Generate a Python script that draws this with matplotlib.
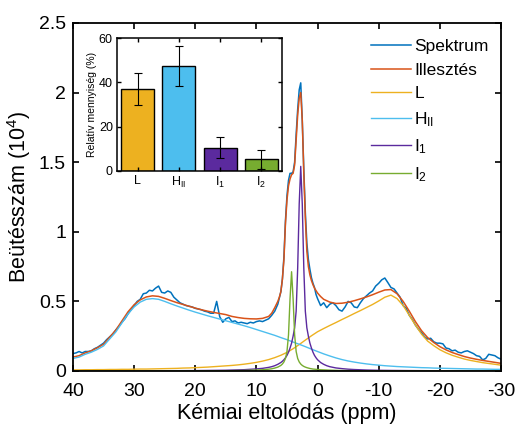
import numpy as np
import matplotlib
matplotlib.use("Agg")
import matplotlib.pyplot as plt
from matplotlib.ticker import FormatStrFormatter

plt.rcParams['font.family'] = ['Liberation Sans', 'DejaVu Sans']
plt.rcParams['mathtext.fontset'] = 'custom'
plt.rcParams['mathtext.rm'] = 'Liberation Sans'
plt.rcParams['mathtext.it'] = 'Liberation Sans'
plt.rcParams['axes.unicode_minus'] = False

# ---- data (y in units of 10^4 counts) ----
# broad components, 1 ppm steps from 40 to -30
broad_ppm = np.arange(40, -31, -1)
h2_vals = [0.09, 0.10, 0.12, 0.135, 0.155, 0.18, 0.23, 0.28, 0.345, 0.41,
           0.46, 0.495, 0.515, 0.52, 0.515, 0.50, 0.483, 0.467, 0.452, 0.437,
           0.423, 0.41, 0.397, 0.385, 0.373, 0.361, 0.349, 0.337, 0.325, 0.312,
           0.298, 0.284, 0.27, 0.256, 0.24, 0.225, 0.208, 0.192, 0.175, 0.157,
           0.14, 0.123, 0.108, 0.094, 0.082, 0.072, 0.064, 0.057, 0.051, 0.046,
           0.042, 0.038, 0.035, 0.032, 0.03, 0.028, 0.026, 0.024, 0.023, 0.021,
           0.02, 0.019, 0.018, 0.017, 0.016, 0.015, 0.014, 0.014, 0.013, 0.012,
           0.012]
l_vals = [0.008, 0.008, 0.009, 0.009, 0.01, 0.01, 0.011, 0.011, 0.012, 0.012,
          0.013, 0.014, 0.014, 0.015, 0.016, 0.017, 0.018, 0.019, 0.021, 0.022,
          0.024, 0.026, 0.028, 0.031, 0.034, 0.037, 0.04, 0.044, 0.049, 0.055,
          0.062, 0.071, 0.082, 0.096, 0.113, 0.134, 0.16, 0.19, 0.222, 0.253,
          0.282, 0.305, 0.327, 0.348, 0.37, 0.391, 0.413, 0.434, 0.456, 0.478,
          0.503, 0.53, 0.545, 0.52, 0.47, 0.40, 0.33, 0.265, 0.215, 0.182,
          0.153, 0.131, 0.113, 0.099, 0.086, 0.076, 0.068, 0.06, 0.054, 0.048,
          0.042]

# narrow components
peak_ppm = [40, 30, 20, 15, 12, 10, 9, 8, 7.5, 7, 6.5, 6,
            5.75, 5.5, 5.25, 5, 4.75, 4.5, 4.25, 4, 3.75, 3.5, 3.25, 3,
            2.75, 2.5, 2.25, 2, 1.75, 1.5, 1.25, 1, 0.75, 0.5, 0.25, 0,
            -0.5, -1, -1.5, -2, -3, -4, -5, -6, -8, -10, -12, -15, -20, -30]
i1_vals = [0.0008, 0.0013, 0.003, 0.0055, 0.0095, 0.015, 0.019, 0.026, 0.031, 0.038, 0.048, 0.061,
           0.07, 0.081, 0.095, 0.112, 0.135, 0.165, 0.2, 0.25, 0.31, 0.43, 0.74, 1.2,
           1.47, 1.2, 0.74, 0.43, 0.31, 0.25, 0.2, 0.165, 0.135, 0.112, 0.095, 0.081,
           0.061, 0.048, 0.038, 0.031, 0.022, 0.017, 0.013, 0.0105, 0.007, 0.005, 0.004, 0.003, 0.0018, 0.001]
i2_vals = [0.0003, 0.0005, 0.0012, 0.0023, 0.004, 0.007, 0.009, 0.013, 0.016, 0.021, 0.028, 0.04,
           0.05, 0.065, 0.09, 0.14, 0.26, 0.52, 0.713, 0.52, 0.26, 0.14, 0.09, 0.065,
           0.05, 0.04, 0.033, 0.028, 0.024, 0.021, 0.018, 0.016, 0.014, 0.013, 0.012, 0.011,
           0.009, 0.008, 0.007, 0.006, 0.0045, 0.0035, 0.003, 0.0025, 0.0018, 0.0014, 0.0011, 0.0008, 0.0005, 0.0003]

# fitted curve
fit_ppm = [40, 39, 38, 37, 36, 35, 34, 33, 32, 31, 30, 29, 28, 27, 26, 25, 24, 23, 22, 21,
           20, 19, 18, 17, 16, 15, 14, 13, 12, 11, 10, 9, 8, 7.5, 7, 6.5, 6.25, 6,
           5.75, 5.5, 5.25, 5, 4.75, 4.5, 4.25, 4, 3.75, 3.5, 3.25, 3, 2.75, 2.5, 2.25, 2,
           1.75, 1.5, 1.25, 1, 0.75, 0.5, 0, -0.5, -1, -2, -3, -4, -5, -6, -7, -8,
           -9, -10, -11, -12, -13, -14, -15, -16, -17, -18, -19, -20, -21, -22, -23, -24,
           -25, -26, -27, -28, -29, -30]
fit_vals = [0.10, 0.11, 0.13, 0.145, 0.167, 0.192, 0.243, 0.293, 0.359, 0.425, 0.476, 0.511, 0.532, 0.54,
            0.536, 0.522, 0.506, 0.491, 0.478, 0.465, 0.452, 0.44, 0.43, 0.421, 0.413, 0.405, 0.392,
            0.384, 0.378, 0.375, 0.374, 0.378, 0.392, 0.415, 0.455, 0.5, 0.53, 0.57,
            0.66, 0.80, 1.06, 1.23, 1.33, 1.38, 1.41, 1.42, 1.48, 1.66, 1.84, 1.96, 2.0, 1.8, 1.42, 1.1,
            0.86, 0.75, 0.69, 0.65, 0.62, 0.595, 0.56, 0.535, 0.515, 0.495, 0.485, 0.487, 0.494, 0.505,
            0.518, 0.532, 0.548, 0.566, 0.582, 0.585, 0.555, 0.50, 0.43, 0.355, 0.29, 0.24, 0.205, 0.175,
            0.152, 0.133, 0.118, 0.104, 0.093, 0.084, 0.076, 0.069, 0.062, 0.055]

# measured spectrum
spec_ppm = [40, 39.5, 39, 38.5, 38, 37.5, 37, 36.5, 36, 35.5, 35, 34.5, 34, 33.5, 33, 32.5, 32,
            31.5, 31, 30.5, 30, 29.5, 29, 28.5, 28, 27.5, 27, 26.5, 26, 25.5, 25, 24.5, 24,
            23.5, 23, 22.5, 22, 21.5, 21, 20.5, 20, 19.5, 19, 18.5, 18, 17.5, 17, 16.5, 16,
            15.5, 15, 14.5, 14, 13.5, 13, 12.5, 12, 11.5, 11, 10.5, 10, 9.5, 9, 8.5, 8, 7.5,
            7, 6.5, 6, 5.75, 5.5, 5.25, 5, 4.75, 4.5, 4.25, 4, 3.75, 3.5, 3.25, 3, 2.75, 2.5,
            2.25, 2, 1.75, 1.5, 1.25, 1, 0.75, 0.5, 0.25, 0, -0.5, -1, -1.5, -2, -2.5, -3,
            -3.5, -4, -4.5, -5, -5.5, -6, -6.5, -7, -7.5, -8, -8.5, -9, -9.5, -10, -10.5,
            -11, -11.5, -12, -12.5, -13, -13.5, -14, -14.5, -15, -15.5, -16, -16.5, -17,
            -17.5, -18, -18.5, -19, -19.5, -20, -20.5, -21, -21.5, -22, -22.5, -23, -23.5,
            -24, -24.5, -25, -25.5, -26, -26.5, -27, -27.5, -28, -28.5, -29, -29.5, -30]
spec_vals = [0.125, 0.13, 0.14, 0.13, 0.14, 0.14, 0.145, 0.16, 0.17, 0.185, 0.2, 0.225, 0.245,
             0.265, 0.295, 0.32, 0.35, 0.375, 0.41, 0.44, 0.47, 0.5, 0.515, 0.555, 0.56, 0.58,
             0.575, 0.595, 0.61, 0.565, 0.56, 0.575, 0.565, 0.53, 0.51, 0.49, 0.48, 0.47, 0.465,
             0.46, 0.45, 0.445, 0.44, 0.43, 0.425, 0.415, 0.415, 0.5, 0.39, 0.35, 0.375, 0.385,
             0.355, 0.36, 0.345, 0.35, 0.345, 0.34, 0.35, 0.345, 0.355, 0.36, 0.355, 0.365,
             0.375, 0.4, 0.43, 0.48, 0.57, 0.66, 0.82, 1.08, 1.26, 1.37, 1.42, 1.42, 1.43, 1.5,
             1.7, 1.88, 2.02, 2.07, 1.8, 1.45, 1.14, 0.92, 0.8, 0.73, 0.67, 0.63, 0.6, 0.55,
             0.52, 0.47, 0.49, 0.455, 0.48, 0.49, 0.47, 0.44, 0.43, 0.46, 0.5, 0.49, 0.46,
             0.455, 0.49, 0.52, 0.54, 0.56, 0.575, 0.61, 0.63, 0.655, 0.668, 0.635, 0.6, 0.59,
             0.56, 0.53, 0.47, 0.45, 0.4, 0.37, 0.33, 0.3, 0.275, 0.245, 0.23, 0.235, 0.21, 0.2,
             0.2, 0.195, 0.165, 0.16, 0.145, 0.15, 0.135, 0.13, 0.14, 0.145, 0.135, 0.125, 0.11,
             0.105, 0.08, 0.09, 0.12, 0.115, 0.11, 0.095, 0.085]

# inset: relative amounts (%)
bar_labels = ['L', r'H$_{\mathrm{II}}$', r'I$_1$', r'I$_2$']
bar_vals = [37.0, 47.5, 10.5, 5.2]
bar_errs = [7.3, 9.0, 4.7, 4.1]

c_spec = '#0072BD'
c_fit = '#D95319'
c_l = '#EDB120'
c_h2 = '#4DBEEE'
c_i1 = '#5B2A9E'
c_i2 = '#77AC30'

fig = plt.figure(figsize=(5.15, 4.29), dpi=100)
ax = fig.add_axes([0.1417, 0.1352, 0.8311, 0.8112])

ax.plot(spec_ppm, spec_vals, color=c_spec, lw=1.1, label='Spektrum')
ax.plot(fit_ppm, fit_vals, color=c_fit, lw=1.1, label='Illesztés')
ax.plot(broad_ppm, l_vals, color=c_l, lw=1.0, label='L')
ax.plot(broad_ppm, h2_vals, color=c_h2, lw=1.0, label=r'H$_{\mathrm{II}}$')
ax.plot(peak_ppm, i1_vals, color=c_i1, lw=1.0, label=r'I$_1$')
ax.plot(peak_ppm, i2_vals, color=c_i2, lw=1.0, label=r'I$_2$')

ax.set_xlim(40, -30)
ax.set_ylim(0, 2.5)
ax.set_xticks(np.arange(40, -31, -10))
ax.set_yticks([0, 0.5, 1, 1.5, 2, 2.5])
ax.yaxis.set_major_formatter(FormatStrFormatter('%g'))
ax.tick_params(direction='in', top=True, right=True, length=4, width=1.2, labelsize=14)
ax.tick_params(axis='x', pad=9)
ax.tick_params(axis='y', pad=5)
for s in ax.spines.values():
    s.set_linewidth(1.3)
ax.set_xlabel('Kémiai eltolódás (ppm)', fontsize=15.5, labelpad=2)
ax.set_ylabel(r'Beütésszám (10$^4$)', fontsize=15.5, labelpad=4)

leg = ax.legend(loc='upper right', frameon=False, fontsize=12.5, handlelength=2.3,
                handletextpad=0.2, labelspacing=0.5, borderaxespad=0.3,
                bbox_to_anchor=(1.0, 0.99))

# inset bar chart
ins = fig.add_axes([0.2272, 0.6014, 0.3204, 0.3100])
xpos = np.arange(len(bar_vals))
ins.bar(xpos, bar_vals, width=0.8, color=[c_l, c_h2, c_i1, c_i2],
        edgecolor='black', linewidth=1.0)
ins.errorbar(xpos, bar_vals, yerr=bar_errs, fmt='none', ecolor='black',
             elinewidth=0.8, capsize=3, capthick=0.8)
ins.set_xlim(-0.5, 3.5)
ins.set_ylim(0, 60)
ins.set_xticks(xpos)
ins.set_xticklabels(bar_labels)
ins.set_yticks([0, 20, 40, 60])
ins.tick_params(direction='in', top=True, right=True, length=3, width=1.0, labelsize=9, pad=3)
for s in ins.spines.values():
    s.set_linewidth(1.1)
ins.set_ylabel('Relatív mennyiség (%)', fontsize=7.5, labelpad=1)

fig.savefig('out.png', dpi=100)
